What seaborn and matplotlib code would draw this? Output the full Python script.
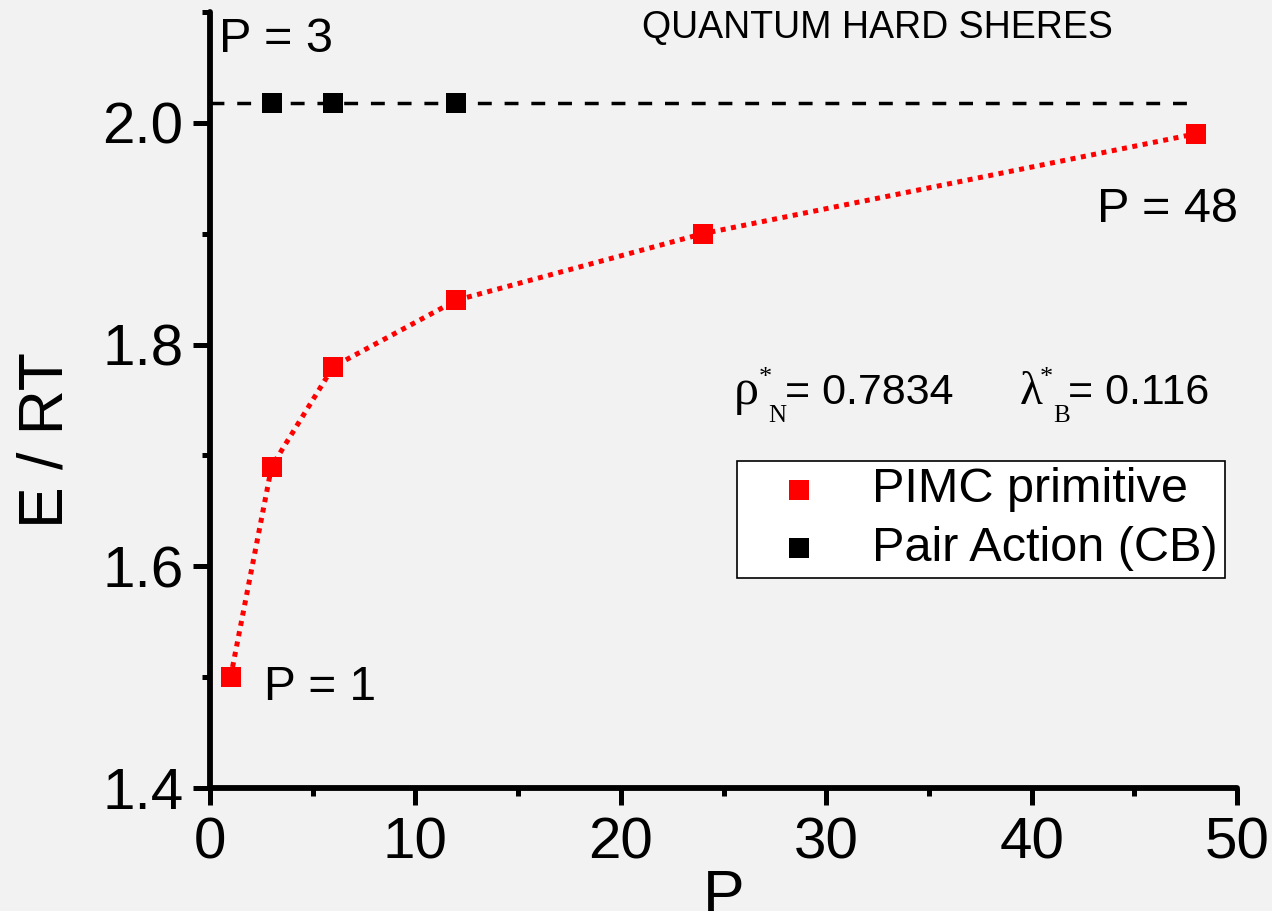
import numpy as np
import matplotlib.pyplot as plt
import seaborn as sns
from matplotlib.ticker import MultipleLocator

# PIMC primitive action: E/RT against number of beads P
pimc_P = [1, 3, 6, 12, 24, 48]
pimc_E = [1.50, 1.69, 1.78, 1.84, 1.90, 1.99]

# pair action (CB) results
pair_P = [3, 6, 12]
pair_E = [2.018, 2.018, 2.018]
# reference level drawn as dashed line, from P=0 to P=48
pair_level = 2.018
pair_span = [0, 48]

BG = '#f2f2f2'
SANS = ['Liberation Sans', 'DejaVu Sans']
SERIF = ['Liberation Serif', 'DejaVu Serif']

sns.set_theme(style='ticks')
plt.rcParams['font.family'] = SANS
plt.rcParams['axes.facecolor'] = BG
plt.rcParams['figure.facecolor'] = BG
plt.rcParams['text.color'] = 'black'
plt.rcParams['axes.labelcolor'] = 'black'
plt.rcParams['xtick.color'] = 'black'
plt.rcParams['ytick.color'] = 'black'

fig = plt.figure(figsize=(12.72, 9.11), dpi=100)
ax = fig.add_axes([0.1651, 0.1347, 0.8074, 0.8524])

# dashed pair-action level + its markers
ax.hlines(pair_level, pair_span[0], pair_span[1], colors='black',
          linewidth=2.5, linestyles=(0, (4, 3.7)))
sns.scatterplot(x=pair_P, y=pair_E, marker='s', s=200, color='black',
                linewidth=0, ax=ax, label='Pair Action (CB)', zorder=3)

# red dotted PIMC curve + markers
sns.lineplot(x=pimc_P, y=pimc_E, color='red', linewidth=3.6, ax=ax,
             linestyle=(0, (1.0, 1.1)), legend=False)
sns.scatterplot(x=pimc_P, y=pimc_E, marker='s', s=200, color='red',
                linewidth=0, ax=ax, label='PIMC primitive', zorder=4)

ax.set_xlim(0, 50)
ax.set_ylim(1.4, 2.1)
ax.xaxis.set_major_locator(MultipleLocator(10))
ax.xaxis.set_minor_locator(MultipleLocator(5))
ax.yaxis.set_major_locator(MultipleLocator(0.2))
ax.yaxis.set_minor_locator(MultipleLocator(0.1))
ax.yaxis.set_major_formatter(plt.FuncFormatter(lambda v, p: f"{v:.1f}"))

for s in ['top', 'right']:
    ax.spines[s].set_visible(False)
for s in ['left', 'bottom']:
    ax.spines[s].set_linewidth(4.2)
    ax.spines[s].set_color('black')
    ax.spines[s].set_capstyle('round')

ax.tick_params(axis='both', which='major', direction='out', length=12,
               width=3.6, color='black', labelsize=42, labelcolor='black')
ax.tick_params(axis='both', which='minor', direction='out', length=6,
               width=3.6, color='black')
ax.tick_params(axis='y', which='major', pad=7)
ax.tick_params(axis='x', which='major', pad=8)

ax.set_xlabel('P', fontsize=45, color='black', va='top')
ax.set_ylabel('E / RT', fontsize=45, color='black')
ax.xaxis.set_label_coords(0.5, -0.103)
ax.yaxis.set_label_coords(-0.131, 0.448)

# annotations
ax.text(32.49, 2.0764, 'QUANTUM HARD SHERES', fontsize=27, ha='center',
        va='baseline', color='black')
ax.text(0.44, 2.0637, 'P = 3', fontsize=35, va='baseline', color='black')
ax.text(2.65, 1.4796, 'P = 1', fontsize=34.5, va='baseline', color='black')
ax.text(43.16, 1.9105, 'P = 48', fontsize=35, va='baseline', color='black')

# reduced density and de Broglie wavelength
ax.text(25.5, 1.7464, 'ρ', family=SERIF, fontsize=36, va='baseline')
ax.text(26.73, 1.7795, '*', family=SERIF, fontsize=19, va='top')
ax.text(27.2, 1.7302, 'N', family=SERIF, fontsize=18, va='baseline')
ax.text(27.99, 1.7464, '= 0.7834', fontsize=31, va='baseline')
ax.text(39.4, 1.7464, 'λ', family=SERIF, fontsize=34, va='baseline')
ax.text(40.41, 1.7795, '*', family=SERIF, fontsize=19, va='top')
ax.text(41.05, 1.7302, 'B', family=SERIF, fontsize=18, va='baseline')
ax.text(41.77, 1.7464, '= 0.116', fontsize=31, va='baseline')

handles, labels = ax.get_legend_handles_labels()
order = [labels.index('PIMC primitive'), labels.index('Pair Action (CB)')]
leg = ax.legend([handles[i] for i in order], [labels[i] for i in order],
                loc='upper left', bbox_to_anchor=(0.5127, 0.4221),
                borderaxespad=0, fontsize=35, frameon=True, fancybox=False,
                borderpad=0.14, labelspacing=0.28, handlelength=2.3,
                handletextpad=0.35, scatterpoints=1)
leg.get_frame().set_edgecolor('black')
leg.get_frame().set_facecolor('white')
leg.get_frame().set_linewidth(1.2)
leg.get_frame().set_alpha(1)

fig.savefig('out.png', dpi=100, facecolor=BG)
